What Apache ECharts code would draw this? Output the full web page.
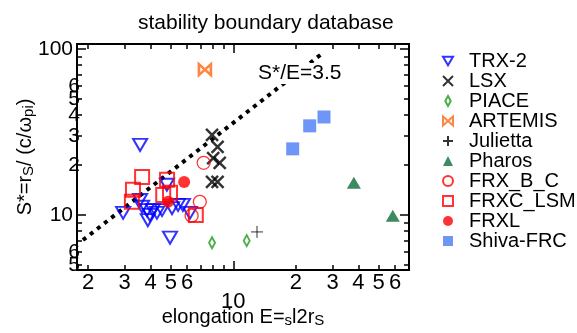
<!DOCTYPE html>
<html><head><meta charset="utf-8">
<script src="https://cdn.jsdelivr.net/npm/echarts@6/dist/echarts.min.js"></script>
<style>html,body{margin:0;padding:0;background:#fff}#c{width:577px;height:333px}</style>
</head><body><div id="c"></div>
<script>
const FONT = 'Liberation Sans';
const titleText = 'stability boundary database';
const xRange = [1.77, 70];
const yRange = [4.66, 107];

// data: [elongation E, S*]
const trx2 = [[3.56,26.4],[2.95,10.3],[3.56,12.3],[3.64,11.2],[3.84,10.7],[3.97,10.0],[3.88,9.3],[4.10,10.7],[4.29,10.3],[4.54,10.7],[4.79,15.2],[5.07,11.0],[5.42,11.5],[5.72,11.5],[6.18,10.3],[4.96,7.3]];
const lsx = [[7.9,30.3],[8.4,25.7],[8.0,22.0],[8.6,20.6],[7.9,15.8],[8.4,15.8]];
const piace = [[7.9,6.8],[11.6,7.0]];
const artemis = [[7.3,75]];
const julietta = [[13.0,7.9]];
const pharos = [[38,15.6],[58.5,9.9]];
const frxBC = [[7.2,20.6],[6.9,12.0],[6.3,9.9]];
const frxcLSM = [[3.64,16.9],[3.29,14.2],[3.25,12.0],[4.8,16.3],[4.6,13.2],[4.96,13.6],[6.6,10.0]];
const frxl = [[5.8,15.8],[4.85,12.0]];
const shiva = [[19.3,25.0],[23.3,34.4],[27.3,38.9]];
const boundaryLine = [[1.89,7.06],[27.0,94.6]];
const boundaryLabel = 'S*/E=3.5';

const xMinorTicks = [2,3,4,5,6,7,8,9,20,30,40,50,60,70];
const xMajorTicks = [10];
const xLabelValues = [2,3,4,5,6,10,20,30,40,50,60];
const xLabelTexts = ['2','3','4','5','6','10','2','3','4','5','6'];
const yMinorTicks = [5,6,7,8,9,20,30,40,50,60,70,80,90];
const yMajorTicks = [10,100];
// y labels split into two non-overlapping sets
const yLabelValuesA = [5,10,30,50,100];
const yLabelTextsA = ['5','10','3','5','100'];
const yLabelValuesB = [6,20,40,60];
const yLabelTextsB = ['6','2','4','6'];

const lg = Math.log10;
function nearestLabel(v, vals, texts) {
  let best = 0, bd = Infinity;
  vals.forEach((t, i) => { const d = Math.abs(lg(t) - v); if (d < bd) { bd = d; best = i; } });
  return texts[best];
}
function tickAxis(pos, ticks, len, range, extra) {
  return Object.assign({
    type: 'value', position: pos, min: lg(range[0]), max: lg(range[1]),
    axisLine: { show: false }, splitLine: { show: false },
    axisTick: { show: true, inside: true, length: len, customValues: ticks.map(lg), lineStyle: { color: '#000', width: 1.5 } },
    axisLabel: { show: false }, silent: true
  }, extra || {});
}
function yLabelAxis(vals, texts) {
  return {
    type: 'value', position: 'left', min: lg(yRange[0]), max: lg(yRange[1]), silent: true,
    axisLine: { show: false }, splitLine: { show: false }, axisTick: { show: false },
    axisLabel: { show: true, customValues: vals.map(lg), margin: -3, color: '#000', fontFamily: FONT, fontSize: 21,
      hideOverlap: false, showMinLabel: true, showMaxLabel: true,
      formatter: v => { const t = nearestLabel(v, vals, texts); return t.length > 1 ? '{maj|' + t + '}' : t; },
      rich: { maj: { fontFamily: FONT, fontSize: 21, color: '#000', padding: [0, 7, 0, 0] } } }
  };
}
const chart = echarts.init(document.getElementById('c'), null, { renderer: 'canvas' });
const hollow = (c, w) => ({ color: 'rgba(0,0,0,0)', borderColor: c, borderWidth: w });
const option = {
  animation: false,
  backgroundColor: '#fff',
  textStyle: { fontFamily: FONT },
  title: { text: titleText, left: 133, top: 8, textStyle: { fontFamily: FONT, fontSize: 21, fontWeight: 'normal', color: '#000' } },
  grid: { left: 77, right: 168, top: 44, bottom: 63, show: true, borderColor: '#000', borderWidth: 2, backgroundColor: 'rgba(0,0,0,0)', containLabel: false, outerBoundsMode: 'none' },
  legend: {
    orient: 'vertical', left: 437, top: 46, itemWidth: 10, itemHeight: 10, itemGap: 0, selectedMode: false,
    textStyle: { fontFamily: FONT, fontSize: 20, lineHeight: 20, color: '#000', padding: [0, 0, 0, 11] },
    data: ['TRX-2','LSX','PIACE','ARTEMIS','Julietta','Pharos','FRX_B_C','FRXC_LSM','FRXL','Shiva-FRC']
  },
  xAxis: [
    { type: 'log', logBase: 10, position: 'bottom', min: xRange[0], max: xRange[1],
      axisLine: { show: false }, axisTick: { show: false }, axisLabel: { show: false }, splitLine: { show: false },
      name: '{n|elongation E=}{s|s}{n|l2r}{s|S}', nameLocation: 'middle', nameGap: 36,
      nameTextStyle: { color: '#000', rich: {
        n: { fontFamily: FONT, fontSize: 20, lineHeight: 22, color: '#000' },
        s: { fontFamily: FONT, fontSize: 15, lineHeight: 10, verticalAlign: 'bottom', color: '#000' } } } },
    tickAxis('bottom', xMinorTicks, 5, xRange, {
      axisLabel: { show: true, customValues: xLabelValues.map(lg), margin: 2, color: '#000', fontFamily: FONT, fontSize: 22,
        hideOverlap: false, showMinLabel: true, showMaxLabel: true,
        formatter: v => { const t = nearestLabel(v, xLabelValues, xLabelTexts); return Math.abs(v - 1) < 1e-6 ? '{low|' + t + '}' : t; },
        rich: { low: { fontFamily: FONT, fontSize: 22, color: '#000', padding: [19, 0, 0, 0] } } } }),
    tickAxis('bottom', xMajorTicks, 9, xRange),
    tickAxis('top', xMinorTicks, 5, xRange),
    tickAxis('top', xMajorTicks, 9, xRange)
  ],
  yAxis: [
    { type: 'log', logBase: 10, position: 'left', min: yRange[0], max: yRange[1],
      axisLine: { show: false }, axisTick: { show: false }, axisLabel: { show: false }, splitLine: { show: false },
      name: '{n|S*=r}{s|S}{n|/ (c/ω}{s|pi}{n|)}', nameLocation: 'middle', nameGap: 41, nameRotate: 90,
      nameTextStyle: { color: '#000', rich: {
        n: { fontFamily: FONT, fontSize: 20, lineHeight: 22, color: '#000' },
        s: { fontFamily: FONT, fontSize: 15, lineHeight: 10, verticalAlign: 'bottom', color: '#000' } } } },
    tickAxis('left', yMinorTicks, 5, yRange),
    tickAxis('left', yMajorTicks, 9, yRange),
    tickAxis('right', yMinorTicks, 5, yRange),
    tickAxis('right', yMajorTicks, 9, yRange),
    yLabelAxis(yLabelValuesA, yLabelTextsA),
    yLabelAxis(yLabelValuesB, yLabelTextsB)
  ],
  graphic: [{ type: 'text', left: 258, top: 63, z: 50,
    style: { text: boundaryLabel, font: '21px "Liberation Sans"', fill: '#000', backgroundColor: '#fff' } }],
  series: [
    { name: 'boundary', type: 'line', data: boundaryLine, symbol: 'none', silent: true, z: 1,
      lineStyle: { color: '#000', width: 4, type: [4, 5], cap: 'butt' } },
    { name: 'TRX-2', type: 'scatter', data: trx2, symbol: 'path://M0,0L14,0L7,12Z', symbolSize: [14, 12], itemStyle: hollow('#0000ff', 2) },
    { name: 'LSX', type: 'scatter', data: lsx, symbol: 'path://M0,0L12,12M12,0L0,12', symbolSize: 12, itemStyle: hollow('#000', 2.5) },
    { name: 'PIACE', type: 'scatter', data: piace, symbol: 'path://M3,0L6,5.5L3,11L0,5.5Z', symbolSize: [6, 11], itemStyle: hollow('#1c9a1c', 2) },
    { name: 'ARTEMIS', type: 'scatter', data: artemis, symbol: 'path://M0,0L12,11L12,0L0,11Z', symbolSize: [12, 11], itemStyle: hollow('#ff6611', 2.5) },
    { name: 'Julietta', type: 'scatter', data: julietta, symbol: 'path://M6,0L6,12M0,6L12,6', symbolSize: 12, itemStyle: hollow('#000', 1) },
    { name: 'Pharos', type: 'scatter', data: pharos, symbol: 'triangle', symbolSize: [14, 12], itemStyle: { color: '#0d6b38' } },
    { name: 'FRX_B_C', type: 'scatter', data: frxBC, symbol: 'circle', symbolSize: 13, itemStyle: hollow('#ff0000', 1.3) },
    { name: 'FRXC_LSM', type: 'scatter', data: frxcLSM, symbol: 'rect', symbolSize: 14, itemStyle: hollow('#ff0000', 2) },
    { name: 'FRXL', type: 'scatter', data: frxl, symbol: 'circle', symbolSize: 12, itemStyle: { color: '#ff0000' } },
    { name: 'Shiva-FRC', type: 'scatter', data: shiva, symbol: 'rect', symbolSize: 13, itemStyle: { color: '#4a7cf5' } }
  ]
};
chart.setOption(option);
</script></body></html>
